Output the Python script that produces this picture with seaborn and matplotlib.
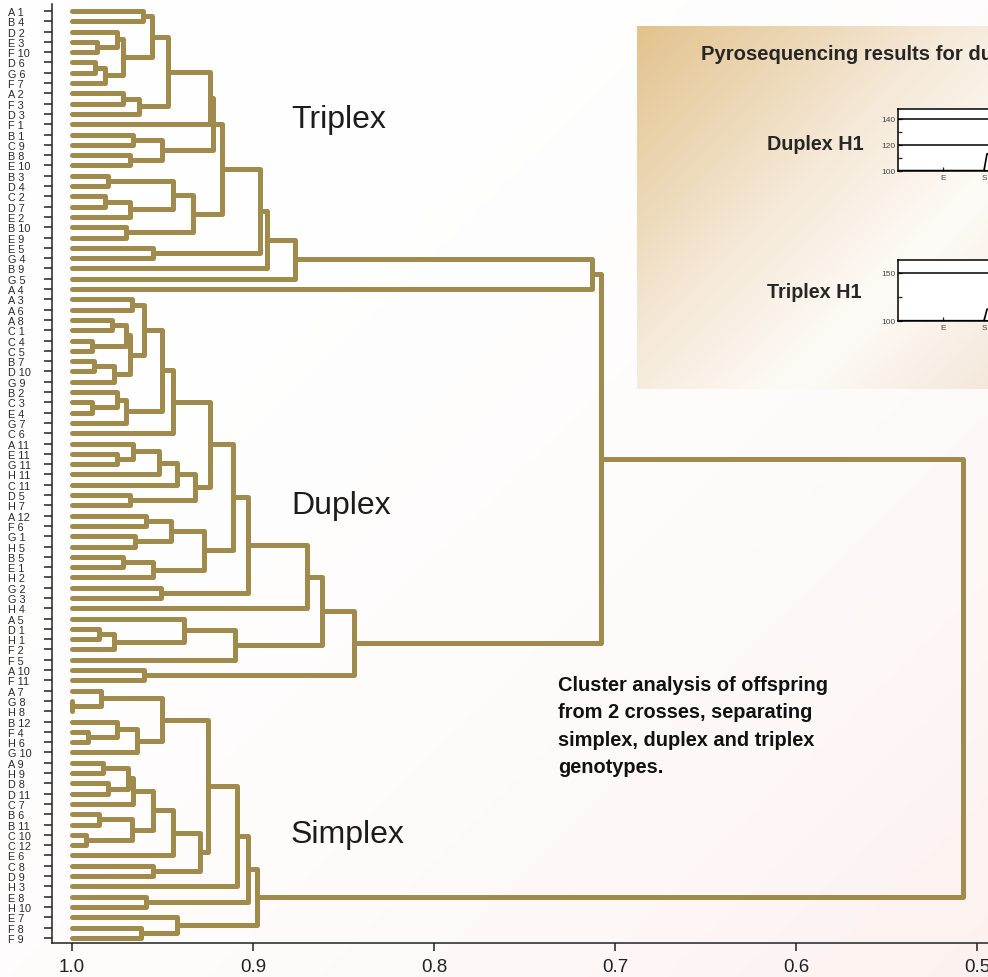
import numpy as np
import matplotlib
matplotlib.use("Agg")
import matplotlib.pyplot as plt
import seaborn as sns
from matplotlib.colors import LinearSegmentedColormap

# ── DATA ──────────────────────────────────────────────────────────────────────
# leaves, top to bottom
leaf_labels = [
    "A 1", "B 4", "D 2", "E 3", "F 10", "D 6", "G 6", "F 7", "A 2", "F 3",
    "D 3", "F 1", "B 1", "C 9", "B 8", "E 10", "B 3", "D 4", "C 2", "D 7",
    "E 2", "B 10", "E 9", "E 5", "G 4", "B 9", "G 5", "A 4",
    "A 3", "A 6", "A 8", "C 1", "C 4", "C 5", "B 7", "D 10", "G 9", "B 2",
    "C 3", "E 4", "G 7", "C 6", "A 11", "E 11", "G 11", "H 11", "C 11", "D 5",
    "H 7", "A 12", "F 6", "G 1", "H 5", "B 5", "E 1", "H 2", "G 2", "G 3",
    "H 4", "A 5", "D 1", "H 1", "F 2", "F 5", "A 10", "F 11",
    "A 7", "G 8", "H 8", "B 12", "F 4", "H 6", "G 10", "A 9", "H 9", "D 8",
    "D 11", "C 7", "B 6", "B 11", "C 10", "C 12", "E 6", "C 8", "D 9", "H 3",
    "E 8", "H 10", "E 7", "F 8", "F 9",
]

# merges: (new node, child a, child b, similarity at which they join)
triplex_merges = [
    ("t1", "A 1", "B 4", 0.961), ("t2", "E 3", "F 10", 0.986),
    ("t3", "D 6", "G 6", 0.987), ("t4", "t3", "F 7", 0.982),
    ("t5", "D 2", "t2", 0.975), ("t6", "t5", "t4", 0.972),
    ("t7", "t1", "t6", 0.956), ("t8", "A 2", "F 3", 0.972),
    ("t9", "t8", "D 3", 0.963), ("t10", "t7", "t9", 0.947),
    ("t11", "t10", "F 1", 0.924), ("t12", "B 1", "C 9", 0.966),
    ("t13", "B 8", "E 10", 0.968), ("t14", "t12", "t13", 0.950),
    ("t15", "t11", "t14", 0.922), ("t16", "B 3", "D 4", 0.980),
    ("t17", "C 2", "D 7", 0.982), ("t18", "t17", "E 2", 0.968),
    ("t19", "t16", "t18", 0.944), ("t20", "B 10", "E 9", 0.970),
    ("t21", "t19", "t20", 0.933), ("t22", "t15", "t21", 0.917),
    ("t23", "E 5", "G 4", 0.955), ("t24", "t22", "t23", 0.896),
    ("t25", "t24", "B 9", 0.892), ("t26", "t25", "G 5", 0.877),
    ("t27", "t26", "A 4", 0.713),
]
duplex_merges = [
    ("d1", "A 3", "A 6", 0.967), ("d2", "A 8", "C 1", 0.978),
    ("d3", "C 4", "C 5", 0.989), ("d4", "d2", "d3", 0.970),
    ("d5", "B 7", "D 10", 0.988), ("d6", "d5", "G 9", 0.977),
    ("d7", "d4", "d6", 0.968), ("d8", "d1", "d7", 0.960),
    ("d9", "C 3", "E 4", 0.989), ("d10", "B 2", "d9", 0.975),
    ("d11", "d10", "G 7", 0.970), ("d12", "d8", "d11", 0.950),
    ("d13", "d12", "C 6", 0.944), ("d14", "E 11", "G 11", 0.975),
    ("d15", "A 11", "d14", 0.966), ("d16", "d15", "H 11", 0.952),
    ("d17", "d16", "C 11", 0.942), ("d18", "D 5", "H 7", 0.968),
    ("d19", "d17", "d18", 0.932), ("d20", "d13", "d19", 0.924),
    ("d21", "A 12", "F 6", 0.959), ("d22", "G 1", "H 5", 0.965),
    ("d23", "d21", "d22", 0.945), ("d24", "B 5", "E 1", 0.972),
    ("d25", "d24", "H 2", 0.955), ("d26", "d23", "d25", 0.927),
    ("d27", "d20", "d26", 0.911), ("d28", "G 2", "G 3", 0.951),
    ("d29", "d27", "d28", 0.903), ("d30", "d29", "H 4", 0.870),
    ("d31", "D 1", "H 1", 0.985), ("d32", "d31", "F 2", 0.977),
    ("d33", "A 5", "d32", 0.938), ("d34", "d33", "F 5", 0.910),
    ("d35", "d30", "d34", 0.862), ("d36", "A 10", "F 11", 0.960),
    ("d37", "d35", "d36", 0.844),
]
simplex_merges = [
    ("s1", "G 8", "H 8", 1.000), ("s2", "A 7", "s1", 0.984),
    ("s3", "F 4", "H 6", 0.991), ("s4", "B 12", "s3", 0.975),
    ("s5", "s4", "G 10", 0.964), ("s6", "s2", "s5", 0.950),
    ("s7", "A 9", "H 9", 0.983), ("s8", "D 8", "D 11", 0.980),
    ("s9", "s7", "s8", 0.969), ("s10", "s9", "C 7", 0.966),
    ("s11", "B 6", "B 11", 0.985), ("s12", "C 10", "C 12", 0.992),
    ("s13", "s11", "s12", 0.967), ("s14", "s10", "s13", 0.955),
    ("s15", "s14", "E 6", 0.944), ("s16", "C 8", "D 9", 0.955),
    ("s17", "s15", "s16", 0.929), ("s18", "s6", "s17", 0.925),
    ("s19", "s18", "H 3", 0.909), ("s20", "E 8", "H 10", 0.959),
    ("s21", "s19", "s20", 0.903), ("s22", "F 8", "F 9", 0.962),
    ("s23", "E 7", "s22", 0.942), ("s24", "s21", "s23", 0.898),
]
top_merges = [
    ("r1", "t27", "d37", 0.708),
    ("root", "r1", "s24", 0.508),
]

x_ticks = [1.0, 0.9, 0.8, 0.7, 0.6, 0.5]
group_names = ["Triplex", "Duplex", "Simplex"]
group_rows = [10.5, 48.0, 79.9]   # leaf row each group label sits beside

note_lines = [
    "Cluster analysis of offspring",
    "from 2 crosses, separating",
    "simplex, duplex and triplex",
    "genotypes.",
]

pyro_title = "Pyrosequencing results for duplex and triplex"
pyro_rows = ["Duplex H1", "Triplex H1"]
duplex_yticks = [100, 120, 140]
triplex_yticks = [100, 150]
pyro_xlabels = ["E", "S"]
pyro_xpos = [2.25, 4.3]
trace_x = [0, 4.3, 4.45, 6.0]
duplex_trace = [100, 100, 113, 114]
triplex_trace = [100, 100, 112, 111]

LINE = "#a08b4c"
FONT = ["Liberation Sans", "DejaVu Sans"]

# ── FIGURE ────────────────────────────────────────────────────────────────────
sns.set_style("ticks")
plt.rcParams["font.family"] = FONT

W, H = 988, 978
fig = plt.figure(figsize=(W / 100, H / 100), dpi=100)


def px_box(x0, y0, x1, y1):
    return [x0 / W, 1 - y1 / H, (x1 - x0) / W, (y1 - y0) / H]


# faint page gradient
bg = fig.add_axes([0, 0, 1, 1], zorder=-10)
u, v = np.meshgrid(np.linspace(0, 1, 200), np.linspace(0, 1, 200))
t = np.clip((u + v) / 2, 0, 1) ** 2.5
page = np.dstack([1 - 0.012 * t, 1 - 0.055 * t, 1 - 0.065 * t])
bg.imshow(page, extent=[0, 1, 0, 1], origin="upper", aspect="auto")
bg.axis("off")

# ── DENDROGRAM ────────────────────────────────────────────────────────────────
ax = fig.add_axes(px_box(52, 5, W, 944))
ax.set_facecolor("none")

pos = {lab: (1.0, i) for i, lab in enumerate(leaf_labels)}
for name, a, b, h in triplex_merges + duplex_merges + simplex_merges + top_merges:
    xa, ya = pos[a]
    xb, yb = pos[b]
    ax.plot([xa, h, h, xb], [ya, ya, yb, yb], color=LINE, lw=3.6,
            solid_capstyle="round", solid_joinstyle="round")
    pos[name] = (h, (ya + yb) / 2)

ax.set_xlim(1.011, 0.494)
ax.set_ylim(90.5, -0.68)
ax.set_yticks(range(len(leaf_labels)))
ax.set_yticklabels(leaf_labels)
ax.set_xticks(x_ticks)
ax.set_xticklabels([f"{x:.1f}" for x in x_ticks])
ax.tick_params(axis="y", length=6, width=1.1, pad=26, labelsize=7.8,
               color="#222222", labelcolor="#2a2a2a")
ax.tick_params(axis="x", length=6, width=1.1, pad=5, labelsize=13.5,
               color="#222222", labelcolor="#222222")
for lab in ax.get_yticklabels():
    lab.set_horizontalalignment("left")
sns.despine(ax=ax)
for sp in ["left", "bottom"]:
    ax.spines[sp].set_linewidth(1.1)
    ax.spines[sp].set_color("#222222")

for name, row in zip(group_names, group_rows):
    ax.text(0.879, row, name, fontsize=23, color="#1c1c1c",
            va="center", ha="left")

fig.text(558 / W, 1 - 676 / H, "\n".join(note_lines), fontsize=14.4,
         fontweight="bold", va="top", ha="left", linespacing=1.55,
         color="#111111")

# ── PYROSEQUENCING INSET ──────────────────────────────────────────────────────
box = fig.add_axes(px_box(637, 27, W, 390), zorder=2)
warm = LinearSegmentedColormap.from_list(
    "warm", [(0.0, "#e2c38d"), (0.45, "#f5e9d8"), (0.72, "#fefbf7"),
             (1.0, "#f4e8da")])
box.imshow((u + v) / 2, cmap=warm, extent=[0, 1, 0, 1], origin="upper",
           aspect="auto", vmin=0, vmax=1)
box.axis("off")

fig.text(701 / W, 1 - 54 / H, pyro_title, fontsize=14.6, fontweight="bold",
         va="center", ha="left", zorder=3)
row_y = [144, 292]
for name, y in zip(pyro_rows, row_y):
    fig.text(767 / W, 1 - y / H, name, fontsize=14.2, fontweight="bold",
             va="center", ha="left", zorder=3)

specs = [
    (px_box(898, 110, 1098, 172), duplex_yticks, 147.7, [110, 130], duplex_trace),
    (px_box(898, 261, 1098, 322), triplex_yticks, 163.5, [125], triplex_trace),
]
for rect, yt, ytop, minors, trace in specs:
    p = fig.add_axes(rect, zorder=3)
    p.set_facecolor("white")
    for yy in yt[1:]:
        p.axhline(yy, color="black", lw=1.1)
    sns.lineplot(x=trace_x, y=trace, ax=p, color="black", lw=1.2)
    p.axhline(yt[0], color="black", lw=2.2)
    p.set_xlim(0, 10)
    p.set_ylim(yt[0] - 0.3, ytop)
    p.set_yticks(yt)
    p.set_yticks(minors, minor=True)
    p.set_xticks(pyro_xpos)
    p.set_xticklabels(pyro_xlabels)
    p.tick_params(axis="both", which="both", direction="in", length=3,
                  width=0.9, labelsize=6, pad=2, labelcolor="#444444")
    for sp in p.spines.values():
        sp.set_linewidth(1.1)
        sp.set_color("black")

fig.savefig("out.png", dpi=100)
